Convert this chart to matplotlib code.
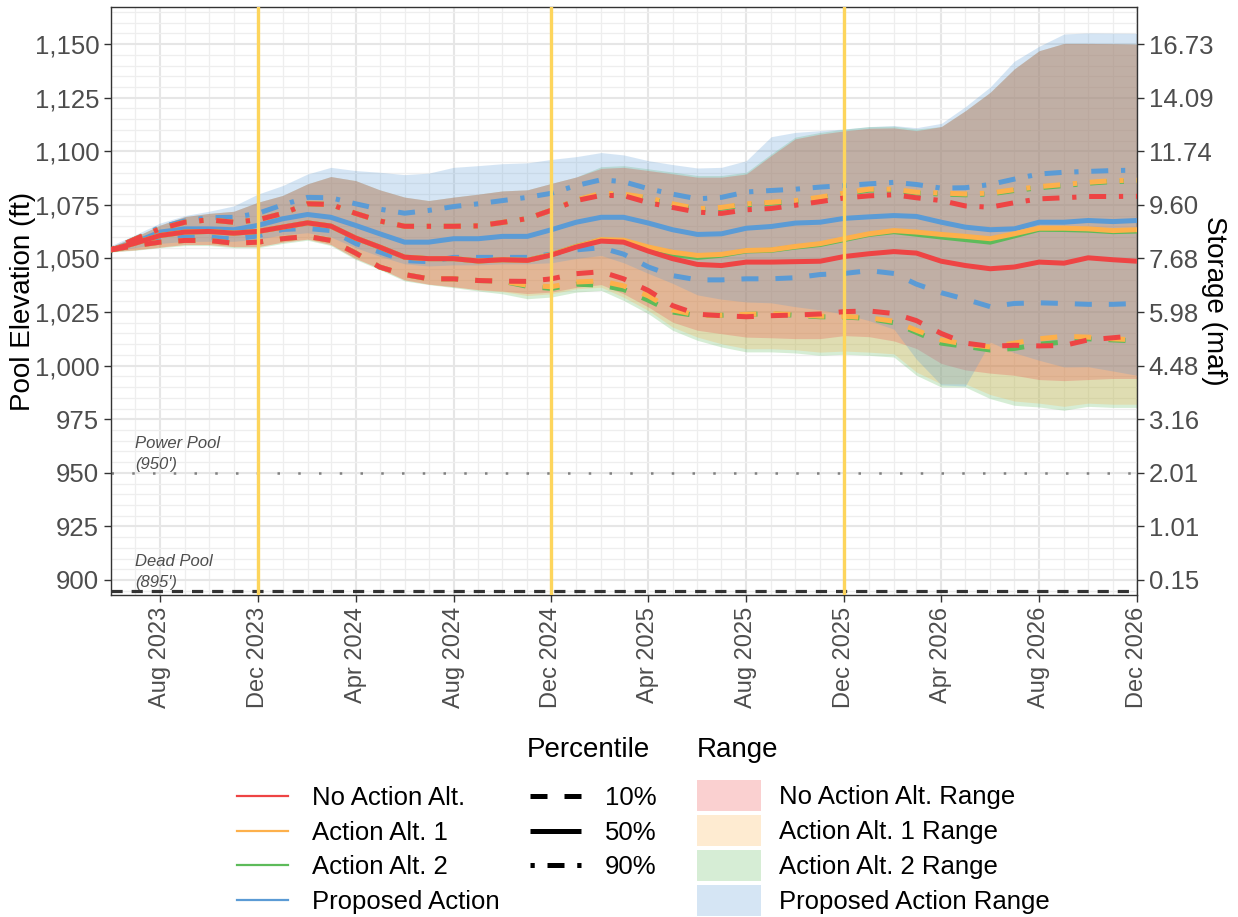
import matplotlib
matplotlib.use('Agg')
import matplotlib.pyplot as plt
import matplotlib.dates as mdates
from matplotlib.lines import Line2D
from matplotlib.patches import Patch
from matplotlib.ticker import MultipleLocator, FuncFormatter
import pandas as pd

plt.rcParams['font.family'] = ['Liberation Sans', 'DejaVu Sans']

# ---------------- data ----------------
dates = pd.date_range('2023-06-01', '2026-12-01', freq='MS')

alternatives = ['No Action Alt.', 'Action Alt. 1', 'Action Alt. 2', 'Proposed Action']
range_labels = ['No Action Alt. Range', 'Action Alt. 1 Range', 'Action Alt. 2 Range', 'Proposed Action Range']
percentiles = ['10%', '50%', '90%']

na_p10 = [1054, 1056.0, 1057.6, 1058.4, 1058.4, 1057.1, 1057.6, 1059.2, 1060.3, 1058.4, 1052.5, 1046.0, 1042.5, 1040.5, 1040.5, 1039.7, 1039.4, 1039.3, 1040.5, 1042.9, 1043.8, 1040.5, 1035.0, 1028.0, 1024.0, 1023.3, 1022.8, 1023.3, 1023.6, 1024.1, 1025.2, 1025.5, 1024.3, 1021.0, 1015.0, 1010.5, 1009.0, 1009.5, 1009.2, 1009.4, 1012.0, 1013.0, 1014.0]
na_p50 = [1054, 1057.1, 1060.7, 1062.3, 1062.6, 1061.8, 1062.6, 1064.6, 1066.6, 1065.1, 1059.5, 1055.3, 1050.6, 1049.9, 1049.9, 1048.8, 1049.4, 1049.1, 1051.6, 1055.3, 1058.1, 1057.6, 1053.4, 1049.9, 1047.2, 1046.7, 1048.3, 1048.3, 1048.5, 1048.7, 1050.9, 1052.2, 1053.2, 1052.5, 1048.7, 1046.7, 1045.2, 1046.0, 1048.3, 1047.8, 1050.3, 1049.4, 1048.7]
na_p90 = [1054, 1059.0, 1063.8, 1066.9, 1068.0, 1066.9, 1068.0, 1071.0, 1075.5, 1075.2, 1071.0, 1067.5, 1065.0, 1065.0, 1065.0, 1065.2, 1066.8, 1068.6, 1072.5, 1077.0, 1079.4, 1079.3, 1076.0, 1073.8, 1071.6, 1071.0, 1072.7, 1073.3, 1074.8, 1076.5, 1078.2, 1079.2, 1079.7, 1078.3, 1077.0, 1074.5, 1073.9, 1076.0, 1077.8, 1078.3, 1078.9, 1078.9, 1079.0]
na_min = [1053.2, 1054.0, 1055.3, 1056.5, 1056.5, 1055.5, 1055.5, 1057.6, 1059.0, 1056.5, 1050.0, 1045.3, 1040.0, 1038.0, 1036.8, 1035.4, 1034.8, 1033.6, 1034.3, 1036.5, 1037.8, 1033.5, 1027.3, 1020.3, 1016.5, 1014.9, 1013.3, 1013.0, 1012.6, 1012.6, 1014.0, 1013.5, 1011.5, 1008.0, 1001.0, 998.0, 996.5, 995.5, 993.5, 993.0, 993.5, 994.0, 994.0]
na_max = [1055.5, 1060.0, 1065.5, 1069.5, 1071.0, 1072.0, 1076.2, 1079.4, 1084.8, 1088.2, 1086.3, 1082.0, 1078.6, 1077.0, 1078.6, 1080.0, 1081.5, 1082.0, 1085.0, 1088.0, 1092.0, 1092.5, 1091.0, 1089.5, 1087.9, 1087.9, 1089.4, 1098.0, 1105.8, 1108.0, 1109.5, 1110.7, 1110.9, 1109.6, 1111.5, 1118.9, 1127.5, 1138.4, 1146.9, 1150.3, 1150.3, 1150.2, 1150.0]

a1_p10 = [1054, 1056.0, 1057.6, 1058.4, 1058.4, 1057.1, 1057.6, 1059.2, 1060.3, 1058.4, 1052.5, 1046.0, 1042.5, 1040.5, 1040.5, 1039.7, 1039.4, 1037.5, 1036.8, 1039.0, 1039.5, 1037.2, 1032.5, 1026.0, 1023.5, 1023.5, 1023.9, 1024.2, 1023.8, 1023.1, 1023.0, 1022.3, 1020.7, 1016.5, 1012.0, 1010.0, 1008.7, 1010.5, 1012.5, 1013.7, 1013.3, 1012.5, 1012.0]
a1_p50 = [1054, 1057.1, 1060.7, 1062.3, 1062.6, 1061.8, 1062.6, 1064.6, 1066.6, 1065.1, 1059.5, 1055.3, 1050.6, 1049.9, 1049.9, 1048.8, 1049.4, 1049.1, 1051.8, 1055.6, 1058.8, 1058.5, 1055.3, 1052.9, 1051.4, 1051.9, 1053.7, 1054.0, 1055.6, 1056.9, 1059.2, 1061.5, 1063.0, 1062.3, 1061.2, 1060.3, 1059.2, 1061.5, 1064.1, 1064.1, 1063.8, 1063.0, 1063.4]
a1_p90 = [1054, 1059.0, 1063.8, 1066.9, 1068.0, 1066.9, 1068.0, 1071.0, 1075.5, 1075.2, 1071.0, 1067.5, 1065.0, 1065.0, 1065.0, 1065.2, 1066.8, 1068.6, 1072.5, 1077.3, 1080.4, 1080.0, 1078.3, 1075.5, 1073.2, 1073.8, 1075.5, 1076.2, 1077.0, 1078.6, 1080.5, 1082.3, 1082.3, 1080.9, 1080.5, 1080.1, 1080.5, 1082.1, 1083.5, 1084.5, 1085.5, 1086.3, 1086.5]
a1_min = [1053.2, 1054.0, 1055.3, 1056.5, 1056.5, 1055.5, 1055.5, 1057.6, 1059.0, 1056.5, 1050.0, 1045.3, 1040.0, 1038.0, 1036.8, 1035.4, 1034.5, 1032.7, 1033.5, 1035.8, 1036.6, 1031.9, 1025.7, 1018.0, 1013.3, 1010.2, 1007.9, 1007.9, 1007.4, 1006.3, 1006.8, 1006.3, 1005.5, 997.0, 991.5, 991.5, 986.5, 983.5, 982.5, 981.0, 982.5, 982.0, 982.0]
a1_max = [1055.5, 1060.0, 1065.5, 1069.5, 1071.0, 1072.0, 1076.2, 1079.4, 1084.8, 1088.2, 1086.3, 1082.0, 1078.6, 1077.0, 1078.6, 1080.0, 1081.5, 1082.0, 1085.0, 1088.0, 1092.0, 1092.5, 1091.0, 1089.5, 1087.9, 1087.9, 1089.4, 1098.0, 1105.8, 1108.0, 1109.5, 1110.7, 1110.9, 1109.6, 1111.5, 1118.9, 1127.5, 1138.4, 1146.9, 1150.3, 1150.3, 1150.2, 1150.0]

a2_p10 = [1054, 1056.0, 1057.6, 1058.4, 1058.4, 1057.1, 1057.6, 1059.2, 1060.3, 1058.4, 1052.5, 1046.0, 1042.5, 1040.5, 1040.5, 1039.7, 1039.4, 1037.0, 1036.0, 1038.0, 1037.5, 1035.5, 1030.5, 1025.0, 1023.3, 1023.5, 1023.9, 1024.2, 1023.5, 1022.8, 1022.7, 1022.0, 1020.0, 1015.5, 1010.5, 1009.0, 1007.3, 1008.0, 1010.0, 1011.0, 1012.5, 1012.0, 1011.5]
a2_p50 = [1054, 1057.1, 1060.7, 1062.3, 1062.6, 1061.8, 1062.6, 1064.6, 1066.6, 1065.1, 1059.5, 1055.3, 1050.6, 1049.9, 1049.9, 1048.8, 1049.4, 1049.1, 1051.8, 1055.6, 1058.6, 1058.2, 1054.8, 1051.8, 1050.5, 1051.5, 1053.5, 1053.8, 1055.3, 1056.5, 1058.8, 1061.2, 1062.5, 1061.3, 1060.0, 1058.8, 1057.6, 1060.5, 1063.6, 1063.5, 1063.2, 1062.5, 1062.8]
a2_p90 = [1054, 1059.0, 1063.8, 1066.9, 1068.0, 1066.9, 1068.0, 1071.0, 1075.5, 1075.2, 1071.0, 1067.5, 1065.0, 1065.0, 1065.0, 1065.2, 1066.8, 1068.6, 1072.5, 1077.2, 1080.0, 1079.6, 1077.9, 1075.1, 1072.8, 1073.4, 1075.1, 1075.8, 1076.6, 1078.2, 1080.1, 1081.9, 1081.9, 1080.5, 1080.1, 1079.7, 1080.1, 1081.7, 1083.0, 1084.0, 1085.1, 1085.9, 1086.1]
a2_min = [1053.0, 1053.8, 1055.0, 1056.0, 1056.0, 1055.0, 1055.0, 1057.0, 1058.5, 1056.0, 1049.5, 1044.8, 1039.5, 1037.8, 1036.4, 1034.8, 1033.5, 1031.2, 1032.0, 1034.3, 1035.1, 1030.4, 1024.2, 1016.5, 1011.8, 1008.7, 1006.4, 1006.4, 1005.9, 1004.8, 1005.3, 1004.8, 1004.0, 995.5, 990.0, 990.0, 984.6, 981.5, 980.7, 979.2, 981.0, 980.5, 980.5]
a2_max = [1055.5, 1060.0, 1065.5, 1069.5, 1071.0, 1072.0, 1076.2, 1079.4, 1084.8, 1088.2, 1086.3, 1082.0, 1078.6, 1077.0, 1078.6, 1080.0, 1081.5, 1082.0, 1085.0, 1088.0, 1092.8, 1093.3, 1091.8, 1090.3, 1088.7, 1088.7, 1090.2, 1098.8, 1106.6, 1108.8, 1110.3, 1111.5, 1111.7, 1110.4, 1111.5, 1118.9, 1127.5, 1138.4, 1146.9, 1150.3, 1150.3, 1150.2, 1150.0]

pa_p10 = [1054, 1056.0, 1059.0, 1060.0, 1060.0, 1059.0, 1060.5, 1063.5, 1064.0, 1063.0, 1057.0, 1053.0, 1049.0, 1048.5, 1050.5, 1050.5, 1050.5, 1050.5, 1052.0, 1054.0, 1055.0, 1052.0, 1046.0, 1042.0, 1040.0, 1040.0, 1040.5, 1040.5, 1041.0, 1042.5, 1043.0, 1044.3, 1043.0, 1038.0, 1034.0, 1031.0, 1027.5, 1029.0, 1029.3, 1029.0, 1028.6, 1028.6, 1029.0]
pa_p50 = [1054, 1057.5, 1062.3, 1063.8, 1063.8, 1063.4, 1065.4, 1068.5, 1070.5, 1069.2, 1065.4, 1061.5, 1057.6, 1057.6, 1059.2, 1059.2, 1060.3, 1060.3, 1063.4, 1066.9, 1069.2, 1069.2, 1066.5, 1063.4, 1061.2, 1061.5, 1064.1, 1064.9, 1066.5, 1066.9, 1068.7, 1069.4, 1070.0, 1069.6, 1066.9, 1064.6, 1063.4, 1063.8, 1066.9, 1066.9, 1067.7, 1067.2, 1067.7]
pa_p90 = [1054, 1059.0, 1064.5, 1067.5, 1069.0, 1069.2, 1071.0, 1075.0, 1078.5, 1078.3, 1075.5, 1073.0, 1071.1, 1072.4, 1074.2, 1075.5, 1077.0, 1078.5, 1080.4, 1084.0, 1086.7, 1085.8, 1082.5, 1080.0, 1077.8, 1078.5, 1081.0, 1081.7, 1082.3, 1083.3, 1084.0, 1084.8, 1085.5, 1084.5, 1082.8, 1083.0, 1084.5, 1087.0, 1089.4, 1090.2, 1090.6, 1091.0, 1091.2]
pa_min = [1053.5, 1055.0, 1057.0, 1058.0, 1058.0, 1058.0, 1059.0, 1061.0, 1062.0, 1060.0, 1055.0, 1051.0, 1047.5, 1046.5, 1047.0, 1047.0, 1047.5, 1047.5, 1048.0, 1050.0, 1051.4, 1048.0, 1043.0, 1038.4, 1033.0, 1031.0, 1029.7, 1029.3, 1027.5, 1026.0, 1024.0, 1021.0, 1017.0, 1003.0, 991.0, 990.5, 1011.0, 1006.0, 1002.5, 999.4, 999.5, 997.5, 995.5]
pa_max = [1056.0, 1061.0, 1066.5, 1070.0, 1072.0, 1074.5, 1080.0, 1084.0, 1089.4, 1092.5, 1091.0, 1090.2, 1089.1, 1089.8, 1092.5, 1093.3, 1094.2, 1094.6, 1096.2, 1097.5, 1099.4, 1098.3, 1095.6, 1093.8, 1092.2, 1092.5, 1095.6, 1106.8, 1108.8, 1109.6, 1110.4, 1111.5, 1112.0, 1111.0, 1113.0, 1120.8, 1130.0, 1142.0, 1149.0, 1154.7, 1155.2, 1155.1, 1155.0]

elev_ticks = [900, 925, 950, 975, 1000, 1025, 1050, 1075, 1100, 1125, 1150]
storage_labels = ['0.15', '1.01', '2.01', '3.16', '4.48', '5.98', '7.68', '9.60', '11.74', '14.09', '16.73']
water_year_starts = ['2023-12-01', '2024-12-01', '2025-12-01']
power_pool = 950
dead_pool = 895

# ---------------- styling ----------------
colors = {'No Action Alt.': '#EE4444', 'Action Alt. 1': '#FDB04B',
          'Action Alt. 2': '#5DBB5A', 'Proposed Action': '#5B9BD5'}
series = {
    'No Action Alt.': (na_p10, na_p50, na_p90, na_min, na_max),
    'Action Alt. 1': (a1_p10, a1_p50, a1_p90, a1_min, a1_max),
    'Action Alt. 2': (a2_p10, a2_p50, a2_p90, a2_min, a2_max),
    'Proposed Action': (pa_p10, pa_p50, pa_p90, pa_min, pa_max),
}
LW = 3.6
dash_styles = {'10%': (0, (3.4, 3.4)), '50%': '-', '90%': (0, (0.85, 2.55, 3.4, 2.55))}
FILL_ALPHA = 0.25

fig = plt.figure(figsize=(12.38, 9.17), dpi=100)
ax = fig.add_axes([111 / 1238, 1 - 595 / 917, 1026 / 1238, 588 / 917])

# ranges (drawing order chosen for overlap colours)
for alt in ['Action Alt. 2', 'Action Alt. 1', 'No Action Alt.', 'Proposed Action']:
    s = series[alt]
    ax.fill_between(dates, s[3], s[4], color=colors[alt], alpha=FILL_ALPHA, lw=0, zorder=1)

# percentile lines
for alt in ['Proposed Action', 'Action Alt. 2', 'Action Alt. 1', 'No Action Alt.']:
    s = series[alt]
    for pct, vals in zip(percentiles, s[:3]):
        ax.plot(dates, vals, color=colors[alt], lw=LW, linestyle=dash_styles[pct],
                solid_capstyle='butt', dash_capstyle='butt', zorder=3)

# reference lines
ax.axhline(power_pool, color='#808080', lw=1.8, linestyle=(0, (1, 7.3)), zorder=2)
ax.axhline(dead_pool, color='#333333', lw=2.3, linestyle=(0, (3.5, 2.8)), zorder=2)
for d in water_year_starts:
    ax.axvline(pd.Timestamp(d), color='#FDD55C', lw=2.4, zorder=6)

ax.text(pd.Timestamp('2023-07-01'), power_pool + 0.3, "Power Pool\n(950')", style='italic',
        fontsize=12, color='#4D4D4D', ha='left', va='bottom', linespacing=1.5, zorder=7)
ax.text(pd.Timestamp('2023-07-01'), dead_pool + 0.3, "Dead Pool\n(895')", style='italic',
        fontsize=12, color='#4D4D4D', ha='left', va='bottom', linespacing=1.5, zorder=7)

# axes
ax.set_xlim(dates[0], dates[-1])
ax.set_ylim(893, 1167.3)
ax.set_yticks(elev_ticks)
ax.yaxis.set_minor_locator(MultipleLocator(5))
ax.yaxis.set_major_formatter(FuncFormatter(lambda v, p: f'{int(v):,}'))
ax.xaxis.set_major_locator(mdates.MonthLocator(bymonth=[4, 8, 12]))
ax.xaxis.set_minor_locator(mdates.MonthLocator())
ax.xaxis.set_major_formatter(mdates.DateFormatter('%b %Y'))
ax.set_axisbelow(True)
ax.grid(which='major', color='#E6E6E6', lw=1.5)
ax.grid(which='minor', color='#EEEEEE', lw=0.9)
for sp in ax.spines.values():
    sp.set_color('#333333')
    sp.set_linewidth(1.0)
ax.tick_params(which='major', length=5, width=1, color='#333333', labelcolor='#4D4D4D', labelsize=18.5)
ax.tick_params(axis='x', which='major', labelrotation=90, labelsize=17)
ax.tick_params(which='minor', length=0)
ax.set_ylabel('Pool Elevation (ft)', fontsize=20, color='black')
ax.yaxis.set_label_coords(-0.073, 0.5)

ax2 = ax.twinx()
ax2.set_ylim(ax.get_ylim())
ax2.set_yticks(elev_ticks)
ax2.set_yticklabels(storage_labels)
ax2.tick_params(length=5, width=1, color='#333333', labelcolor='#4D4D4D', labelsize=18.5)
for sp in ax2.spines.values():
    sp.set_visible(False)
ax2.set_ylabel('Storage (maf)', fontsize=20, color='black', rotation=-90, va='bottom')
ax2.yaxis.set_label_coords(1.062, 0.5)

# legends
FS = 18.5
h1 = [Line2D([], [], color=colors[a], lw=1.6) for a in alternatives]
leg1 = fig.legend(h1, alternatives, loc='upper left', bbox_to_anchor=(237 / 1238, 1 - 786 / 917),
                  frameon=False, fontsize=FS, borderpad=0, borderaxespad=0, handlelength=2.0,
                  handletextpad=0.9, labelspacing=0.41)
h2 = [Line2D([], [], color='black', lw=LW, linestyle=dash_styles[p], dash_capstyle='butt',
             solid_capstyle='butt') for p in percentiles]
leg2 = fig.legend(h2, percentiles, loc='upper left', bbox_to_anchor=(530 / 1238, 1 - 786 / 917),
                  frameon=False, fontsize=FS, borderpad=0, borderaxespad=0, handlelength=2.0,
                  handletextpad=0.9, labelspacing=0.41)
h3 = [Patch(facecolor=colors[a], alpha=FILL_ALPHA, lw=0) for a in alternatives]
leg3 = fig.legend(h3, range_labels, loc='upper left', bbox_to_anchor=(697 / 1238, 1 - 780 / 917),
                  frameon=False, fontsize=FS, borderpad=0, borderaxespad=0, handlelength=2.5,
                  handleheight=1.5, handletextpad=0.68, labelspacing=0.14)
fig.text(527 / 1238, 1 - 750 / 917, 'Percentile', fontsize=20, ha='left', va='center')
fig.text(697 / 1238, 1 - 750 / 917, 'Range', fontsize=20, ha='left', va='center')

fig.savefig('out.png', dpi=100)
